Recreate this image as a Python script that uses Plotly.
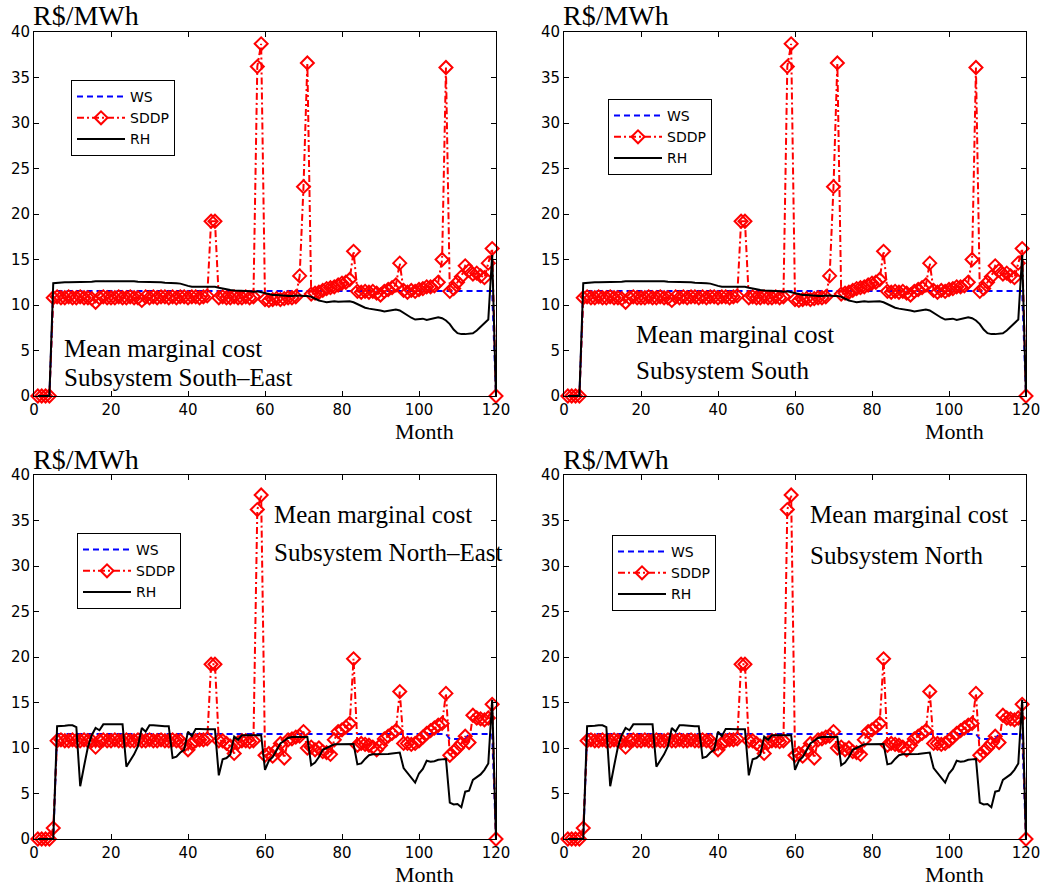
import plotly.graph_objects as go

# ---------------- data ----------------
months = list(range(1, 121))

# South-East / South subsystems (top panels)
ws_top = [0, 0, 0, 0] + [11.55] * 115 + [0]
sddp_top = [0, 0, 0, 0,
            10.8, 10.9, 10.8, 10.8, 10.9, 10.8, 10.8, 10.9, 10.8, 10.8,
            10.7, 10.3,
            10.8, 10.9, 10.8, 10.8, 10.8, 10.9, 10.8, 10.8, 10.9, 10.8,
            10.8, 10.5,
            10.9, 10.8, 10.9, 10.8, 10.9, 10.9, 10.8, 10.9, 10.8, 10.9, 10.9, 10.8, 10.9, 10.9, 10.8, 10.9, 11.0,
            19.2, 19.2,
            10.8, 10.9, 10.8, 10.8, 10.9, 10.8, 10.8, 10.9, 10.8, 10.9,
            36.2, 38.7,
            10.6, 10.5, 10.6, 10.7, 10.6, 10.7, 10.8, 10.8, 10.9,
            13.2, 23.0, 36.6,
            11.2, 11.3, 11.4, 11.6, 11.8, 11.9, 12.0, 12.2, 12.4, 12.5, 12.8,
            15.9,
            11.5, 11.4, 11.5, 11.4, 11.5, 11.3, 11.1, 11.5, 11.7, 11.9, 12.2,
            14.6,
            11.6, 11.4, 11.6, 11.5, 11.7, 11.8, 12.0, 12.0, 12.1, 12.5,
            15.0, 36.1,
            11.5, 11.8, 12.5, 13.1, 14.3, 13.8, 13.4, 13.5, 13.2, 13.0, 14.6, 16.2,
            0]
rh_top = [0, 0, 0, 0,
          12.4, 12.45, 12.45, 12.5, 12.5, 12.5, 12.55, 12.55, 12.5, 12.5,
          12.55, 12.6, 12.6, 12.6, 12.6, 12.6, 12.6, 12.65, 12.65, 12.6,
          12.6, 12.6, 12.55, 12.55, 12.55, 12.5, 12.5, 12.5, 12.5, 12.45,
          12.45, 12.4, 12.4, 12.35, 12.2, 12.1, 12.0, 12.0, 12.05, 12.0,
          12.0, 12.0, 12.0, 11.9, 11.8, 11.7, 11.65, 11.6, 11.6, 11.55,
          11.55, 11.5, 11.45, 11.5, 11.4, 11.3, 11.2, 11.1, 11.1, 11.05,
          11.0, 11.0, 11.0, 11.05, 11.05, 11.0, 11.0, 10.9, 10.7, 10.5,
          10.4, 10.3, 10.35, 10.4, 10.35, 10.35, 10.4, 10.4, 10.3, 10.1,
          9.9, 9.7, 9.6, 9.55, 9.5, 9.4, 9.3, 9.35, 9.45, 9.5,
          9.4, 9.1, 8.8, 8.6, 8.4, 8.45, 8.5, 8.35, 8.45, 8.6,
          8.65, 8.55, 8.3, 7.9, 7.3, 6.9, 6.8, 6.8, 6.85, 6.9,
          7.2, 7.6, 8.0, 8.4, 15.5, 0]

# North-East / North subsystems (bottom panels)
ws_bot = [0, 0, 0, 0, 0] + [11.55] * 102 + [11.0] * 5 + [11.55] * 7 + [0]
sddp_bot = [0, 0, 0, 0, 1.2,
            10.8, 10.9, 10.8, 10.8, 10.9, 10.8, 10.8, 10.9, 10.8, 10.8,
            10.1,
            10.8, 10.9, 10.8, 10.8, 10.9, 10.8, 10.8, 10.9, 10.8, 10.8, 10.9,
            10.8, 10.8, 10.9, 10.8, 10.8, 10.9, 10.8, 10.8, 10.9, 10.8, 10.8,
            10.3, 9.8, 10.5, 10.8, 10.9, 10.9, 11.0,
            19.2, 19.2,
            10.8, 10.8, 10.5, 10.2, 9.4, 10.6, 10.8, 10.8, 10.7, 10.8,
            36.2, 37.8,
            9.2, 9.4, 9.1, 9.8, 10.5, 8.9, 10.9, 11.0, 11.2, 11.3, 11.8,
            10.0, 10.1, 9.8, 10.0, 9.6, 9.5, 9.3, 10.9, 11.8, 12.0, 12.3, 12.7,
            19.8,
            10.3, 10.5, 10.4, 10.3, 10.1, 9.8, 10.3, 11.0, 11.3, 11.6, 11.9,
            16.2,
            10.5, 10.5, 10.4, 10.5, 10.8, 11.2, 11.6, 11.9, 12.2, 12.5, 12.7,
            16.0,
            9.2, 9.6, 10.0, 10.5, 11.3, 10.6, 13.6, 13.3, 13.2, 13.1, 13.3, 14.8,
            0]
rh_bot = [0, 0, 0, 0, 0,
          12.4, 12.4, 12.45, 12.5, 12.5, 12.3, 5.8, 8.0, 10.1, 11.4,
          12.2, 11.95, 12.6, 12.6, 12.6, 12.6, 12.65, 12.6, 7.95, 8.6,
          9.3, 10.2, 12.2, 11.8, 12.5, 12.5, 12.45, 12.45, 12.4, 12.4,
          8.9, 9.05, 9.5, 9.8, 11.8, 11.3, 12.1, 12.1, 12.05, 12.05,
          12.05, 12.05, 7.0, 8.75, 8.9, 9.3, 11.25, 10.9, 11.4, 11.4,
          11.4, 11.35, 11.4, 11.4, 7.6, 8.6, 9.0, 9.8, 10.5, 10.8,
          11.1, 11.2, 11.2, 11.2, 11.2, 11.2, 8.1, 8.4, 9.0, 9.8,
          10.0, 10.2, 10.4, 10.4, 10.4, 10.4, 10.4, 10.45, 8.2, 8.3,
          8.8, 9.2, 9.3, 9.3, 9.35, 9.3, 9.35, 9.4, 9.45, 9.5,
          7.8, 7.3, 6.8, 6.2, 7.2, 7.7, 8.6, 8.5, 8.55, 8.7,
          8.75, 8.8, 4.0, 3.8, 3.85, 3.5, 5.2, 5.3, 6.5, 6.8,
          7.1, 7.6, 8.3, 15.3, 0]

x_ticks = [0, 20, 40, 60, 80, 100, 120]
y_ticks = [0, 5, 10, 15, 20, 25, 30, 35, 40]
series_names = ["WS", "SDDP", "RH"]
panel_titles = [["Mean marginal cost", "Subsystem South\u2013East"],
                ["Mean marginal cost", "Subsystem South"],
                ["Mean marginal cost", "Subsystem North\u2013East"],
                ["Mean marginal cost", "Subsystem North"]]
unit_label = "R$/MWh"
x_label = "Month"

# ---------------- layout geometry (pixels) ----------------
W, H = 1044, 890
panels = [  # left, right, top, bottom
    (34, 496, 32, 396),
    (564, 1026, 32, 396),
    (34, 496, 475, 839),
    (564, 1026, 475, 839),
]
legend_pos = [(71, 80), (608, 99), (77, 533), (612, 535)]
text_pos = [((62, 348), (62, 377)), ((634, 335), (634, 370)),
            ((272, 514), (272, 552)), ((808, 514), (808, 555))]
datasets = [(ws_top, sddp_top, rh_top), (ws_top, sddp_top, rh_top),
            (ws_bot, sddp_bot, rh_bot), (ws_bot, sddp_bot, rh_bot)]

fig = go.Figure()
layout = dict(width=W, height=H, margin=dict(l=0, r=0, t=0, b=0, autoexpand=False),
              paper_bgcolor="white", plot_bgcolor="white", showlegend=True)
annotations = []
tickfont = dict(family="DejaVu Sans", size=15, color="black")
serif = "Liberation Serif"

for i, (l, r, t, b) in enumerate(panels):
    k = "" if i == 0 else str(i + 1)
    xa, ya = "x" + k, "y" + k
    leg = "legend" if i == 0 else "legend" + str(i + 1)
    ws, sd, rh = datasets[i]
    fig.add_trace(go.Scatter(x=months, y=ws, mode="lines", name=series_names[0],
                             line=dict(color="#0000ff", width=2, dash="6px,4px"),
                             xaxis=xa, yaxis=ya, legend=leg))
    fig.add_trace(go.Scatter(x=months, y=sd, mode="lines+markers", name=series_names[1],
                             line=dict(color="#ff0000", width=2, dash="7px,3px,2px,3px"),
                             marker=dict(symbol="diamond-open", size=10, color="#ff0000",
                                         line=dict(width=2, color="#ff0000")),
                             cliponaxis=False,
                             xaxis=xa, yaxis=ya, legend=leg))
    fig.add_trace(go.Scatter(x=months, y=rh, mode="lines", name=series_names[2],
                             line=dict(color="black", width=2),
                             xaxis=xa, yaxis=ya, legend=leg))
    axcommon = dict(showline=True, linecolor="black", linewidth=1, mirror="ticks",
                    ticks="inside", ticklen=5, tickcolor="black", showgrid=False,
                    zeroline=False, tickfont=tickfont, automargin=False)
    layout["xaxis" + k] = dict(axcommon, domain=[l / W, r / W], range=[0, 120],
                               tickvals=x_ticks, anchor=ya)
    layout["yaxis" + k] = dict(axcommon, domain=[1 - b / H, 1 - t / H], range=[0, 40],
                               tickvals=y_ticks, anchor=xa)
    lx, ly = legend_pos[i]
    layout[leg] = dict(x=lx / W, y=1 - ly / H, xanchor="left", yanchor="top",
                       bgcolor="white", bordercolor="black", borderwidth=1,
                       font=dict(family="DejaVu Sans", size=14, color="black"),
                       itemwidth=48, tracegroupgap=0)
    for (tx, ty), txt in zip(text_pos[i], panel_titles[i]):
        annotations.append(dict(x=tx / W, y=1 - ty / H, xref="paper", yref="paper",
                                xanchor="left", yanchor="middle", showarrow=False,
                                text=txt, font=dict(family=serif, size=25, color="black")))
    annotations.append(dict(x=(l - 3) / W, y=1 - (t - 16) / H, xref="paper", yref="paper",
                            xanchor="left", yanchor="middle", showarrow=False,
                            text=unit_label, font=dict(family=serif, size=28, color="black")))
    annotations.append(dict(x=(r - 72) / W, y=1 - (b + 35) / H, xref="paper", yref="paper",
                            xanchor="center", yanchor="middle", showarrow=False,
                            text=x_label, font=dict(family=serif, size=22, color="black")))

layout["annotations"] = annotations
fig.update_layout(**layout)
fig.write_html("out.html", config={"displayModeBar": False},
               post_script="document.body.style.margin='0px';")
